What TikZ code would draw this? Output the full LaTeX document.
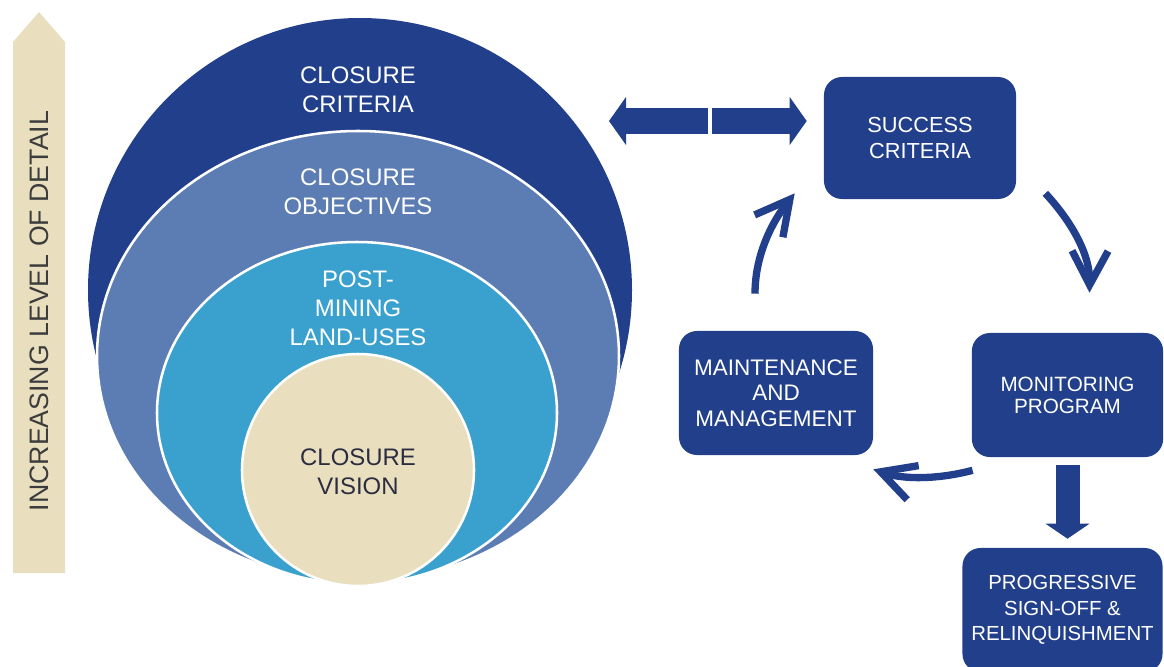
\documentclass[tikz,border=0pt]{standalone}
\usepackage{fontspec}
\setmainfont{Liberation Sans}
\usepackage{xcolor}
\usetikzlibrary{arrows.meta, positioning, calc}

\definecolor{deepblue}{HTML}{213F8A}
\definecolor{midblue}{HTML}{5C7DB4}
\definecolor{skyblue}{HTML}{3AA1CF}
\definecolor{sand}{HTML}{E9DFBF}
\definecolor{ink}{HTML}{2B2C40}
\definecolor{greytext}{HTML}{3C3C3C}

\begin{document}
\begin{tikzpicture}[x=0.025cm, y=-0.025cm]
	% Define styles for rings, boxes and arrows
	\tikzstyle{ring} = [draw=white, line width=1.8pt]
	\tikzstyle{ringtext} = [text=white, align=center, font=\fontsize{17pt}{20.5pt}\selectfont]
	\tikzstyle{stage} = [rectangle, rounded corners=0.45cm, fill=deepblue, text=white, align=center, inner sep=0pt]
	\tikzstyle{cyclearrow} = [deepblue, line width=5.2pt, -{Straight Barb[length=0.85cm, width=0.9cm]}]
	\tikzstyle{blockarrow} = [deepblue, line width=0.65cm, -{Triangle[length=0.425cm, width=1.2cm, line width=0pt]}]

	\useasboundingbox (0,0) rectangle (1164,666);

	% Level of detail bar
	\fill[sand] (13,573) -- (13,42) -- (39,12) -- (65,42) -- (65,573) -- cycle;
	\node[rotate=90, text=greytext, font=\fontsize{19pt}{21pt}\selectfont] (detail) at (39,311) {INCREASING LEVEL OF DETAIL};

	% Nested rings
	\fill[deepblue] (360,290) circle[radius=272];
	\filldraw[ring, fill=midblue] (358,356) ellipse[x radius=261, y radius=225];
	\filldraw[ring, fill=skyblue] (357,413) ellipse[x radius=200, y radius=171];
	\filldraw[ring, fill=sand] (358,470) circle[radius=116];

	\node[ringtext] (criteria) at (358,90) {CLOSURE\\CRITERIA};
	\node[ringtext] (objectives) at (358,192) {CLOSURE\\OBJECTIVES};
	\node[ringtext] (landuses) at (358,308) {POST-\\MINING\\LAND-USES};
	\node[ringtext, text=ink] (vision) at (358,472) {CLOSURE\\VISION};

	% The cycle on the right
	\node[stage, minimum width=4.8cm, minimum height=3.05cm, font=\fontsize{15.5pt}{19pt}\selectfont] (success) at (920,138) {SUCCESS\\CRITERIA};
	\node[stage, minimum width=4.85cm, minimum height=3.1cm, font=\fontsize{16pt}{18pt}\selectfont] (maint) at (776,393) {MAINTENANCE\\AND\\MANAGEMENT};
	\node[stage, minimum width=4.78cm, minimum height=3.1cm, font=\fontsize{14.7pt}{15.5pt}\selectfont] (monitor) at (1067.5,395) {MONITORING\\PROGRAM};
	\node[stage, minimum width=5cm, minimum height=3.1cm, font=\fontsize{14.5pt}{18pt}\selectfont] (progress) at (1062.5,610) {PROGRESSIVE\\SIGN-OFF \&\\RELINQUISHMENT};

	% Double arrow between criteria
	\coordinate (gap) at (710,121);
	\coordinate (tipleft) at (609,121);
	\draw[blockarrow, shorten <=0.05cm] (gap) -- (tipleft);
	\draw[blockarrow, shorten <=0.05cm, shorten >=0.425cm] (gap) -- (gap -| success.west);

	% Cycle arrows
	\draw[cyclearrow] ($(maint.north)+(-21,-37)$) .. controls (755,255) and (772,222) .. ($(success.south west)+(-29,-6)$);
	\draw[cyclearrow] ($(success.south east)+(29,-6)$) .. controls (1072,222) and (1090,255) .. ($(monitor.north)+(22,-40)$);
	\draw[cyclearrow] ($(monitor.south west)+(1,13)$) .. controls (940,479) and (905,480) .. ($(maint.south east)+(0,14)$);

	% Down to sign-off
	\draw[blockarrow, line width=0.6cm, -{Triangle[length=0.375cm, width=1.1cm, line width=0pt]}, shorten <=0.2cm, shorten >=0.225cm] (monitor.south) -- (monitor.south |- progress.north);

\end{tikzpicture}
\end{document}
